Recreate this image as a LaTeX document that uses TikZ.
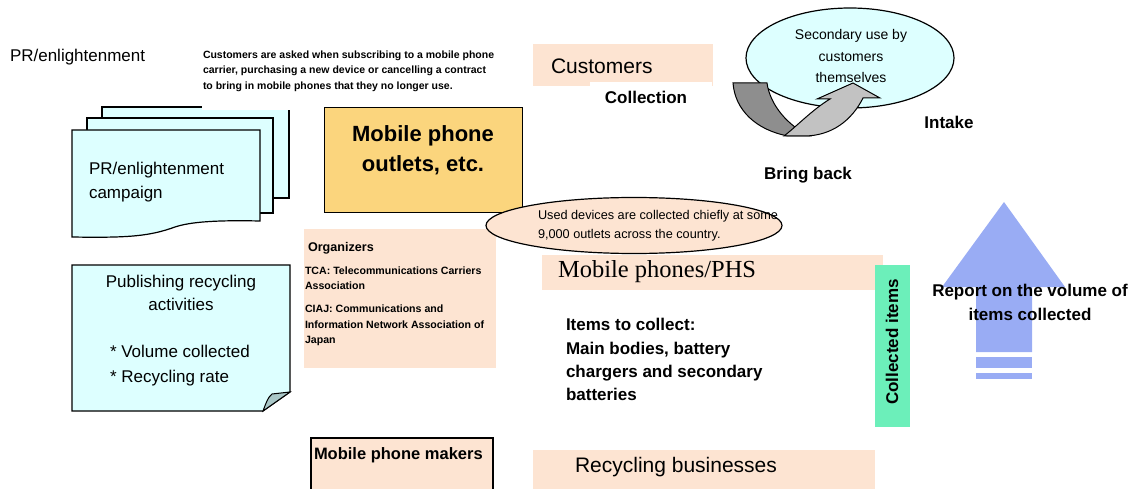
\documentclass[tikz,border=0pt]{standalone}
\usepackage{fontspec}
\setmainfont{Liberation Sans}
\newfontfamily\timesf{Liberation Serif}
\definecolor{cyanfill}{HTML}{DDFFFF}
\definecolor{peach}{HTML}{FDE4D2}
\definecolor{outletyel}{HTML}{FBD57D}
\definecolor{greenbox}{HTML}{6CEFBA}
\definecolor{bluearrow}{HTML}{99ACF4}
\definecolor{darkarr}{HTML}{8E8E8E}
\definecolor{lightarr}{HTML}{C2C2C2}
\definecolor{foldcol}{HTML}{A9C7C7}
\newcommand{\fs}[2]{\fontsize{#1}{#2}\selectfont}
\begin{document}
\begin{tikzpicture}[x=1pt,y=-1pt,
  outline/.style={draw=black,line width=1.2pt},
  txt/.style={inner sep=0pt,outer sep=0pt,text=black},
  ltxt/.style={txt,anchor=north west,align=left},
  ctxt/.style={txt,align=center}]
\useasboundingbox (0,0) rectangle (1135,489);
% left heading
\node[txt,anchor=west,font=\fs{17}{20}] (prhead) at (10,57) {PR/enlightenment};
% multi-document
\path[fill=cyanfill,outline] (102,107) rectangle (289,198);
\path[fill=cyanfill,outline] (87,118) rectangle (273,213);
\path[fill=cyanfill,outline] (72,130) -- (260,130) -- (260,221)
  .. controls (215,220) and (190,222) .. (175,227)
  .. controls (150,236) and (130,238) .. (72,237) -- cycle;
\node[ltxt,font=\fs{17}{24}] (prcamp) at (89,162) {PR/enlightenment\\campaign};
% white cover for text box
\fill[white] (202,42) rectangle (315,110);
\node[ltxt,font=\fs{10.5}{15.5}\bfseries] (asktxt) at (203,50.5) {Customers are asked when subscribing to a mobile phone\\carrier, purchasing a new device or cancelling a contract\\to bring in mobile phones that they no longer use.};
% outlets
\node[fill=outletyel,outline,minimum width=198pt,minimum height=105pt,anchor=north west] (outlets) at (324,107) {};
\node[ctxt,font=\fs{22}{30}\bfseries] (outtxt) at (423,150) {Mobile phone\\outlets, etc.};
% customers
\node[fill=peach,inner sep=0,minimum width=180pt,minimum height=42pt,anchor=north west] (cust) at (533,44) {};
\node[txt,anchor=west,font=\fs{21}{24}] (custtxt) at (551,66) {Customers};
\node[fill=white,inner sep=0,minimum width=122pt,minimum height=28pt,anchor=north west] (collbox) at (590,82) {};
\node[txt,font=\fs{17}{20}\bfseries] (colltxt) at (646,97) {Collection};
% secondary use ellipse
\path[fill=cyanfill,outline] (850,58) ellipse [x radius=104, y radius=50];
\node[ctxt,font=\fs{14}{21.5}] (sectxt) at (851,56) {Secondary use by\\customers\\themselves};
% curved arrows
\path[fill=darkarr,draw=black,line width=1pt] (733,83) -- (767,83)
  .. controls (770,105) and (788,126) .. (810,136) -- (788,136)
  .. controls (756,130) and (735,110) .. (733,83) -- cycle;
\path[fill=lightarr,draw=black,line width=1pt] (784,136)
  .. controls (797,126) and (812,110) .. (830,99) -- (817,99) -- (853,83) -- (880,98) -- (863,98)
  .. controls (852,120) and (832,136) .. (804,136) -- cycle;
\node[txt,font=\fs{17}{20}\bfseries] (intake) at (949,122) {Intake};
\node[txt,font=\fs{17}{20}\bfseries] (bring) at (808,175) {Bring back};
% organizers
\node[fill=peach,inner sep=0,minimum width=192pt,minimum height=139pt,anchor=north west] (org) at (304,229) {};
\node[txt,anchor=west,font=\fs{12.6}{15}\bfseries] (orgtitle) at (308,248) {Organizers};
\node[ltxt,font=\fs{10.6}{15.3}\bfseries] (orgtxt) at (305,267) {TCA: Telecommunications Carriers\\Association\\[7.7pt]CIAJ: Communications and\\Information Network Association of\\Japan};
% used devices ellipse
\path[fill=peach,outline] (634,225.5) ellipse [x radius=148, y radius=28];
\node[ltxt,font=\fs{12.7}{19}] (usedtxt) at (538,210.5) {Used devices are collected chiefly at some\\9,000 outlets across the country.};
% mobile phones/PHS
\node[fill=peach,inner sep=0,minimum width=341pt,minimum height=35pt,anchor=north west] (phs) at (542,255) {};
\node[txt,anchor=west,font=\fs{24.5}{28}\timesf] (phstxt) at (558,272) {Mobile phones/PHS};
% collected items
\node[fill=greenbox,inner sep=0,minimum width=35pt,minimum height=162pt,anchor=north west] (green) at (875,265) {};
\node[txt,rotate=90,font=\fs{17}{20}\bfseries] (greentxt) at (892,342) {Collected items};
% blue arrow
\fill[bluearrow] (1004,202) -- (1065,287) -- (1032,287) -- (1032,352) -- (976,352) -- (976,287) -- (942,287) -- cycle;
\fill[bluearrow] (976,357) rectangle (1032,368);
\fill[bluearrow] (976,373) rectangle (1032,379);
\node[ctxt,font=\fs{17}{24}\bfseries] (report) at (1030,302) {Report on the volume of\\items collected};
% publishing
\path[fill=cyanfill,outline] (72,265) -- (290,265) -- (290,392) -- (263,411) -- (72,411) -- cycle;
\path[fill=foldcol,draw=black,line width=1pt] (263,411) .. controls (266,403) and (268,397) .. (272,394) -- (290,392) -- cycle;
\node[ctxt,font=\fs{17}{23}] (pubtxt) at (181,292.5) {Publishing recycling\\activities};
\node[ltxt,font=\fs{17}{25}] (pubitems) at (110,345) {* Volume collected\\* Recycling rate};
% items to collect
\node[ltxt,font=\fs{17}{23.3}\bfseries] (items) at (566,318.5) {Items to collect:\\Main bodies, battery\\chargers and secondary\\batteries};
% makers
\path[fill=peach,outline] (311,489) -- (311,438) -- (493,438) -- (493,489);
\node[txt,anchor=west,font=\fs{16.5}{20}\bfseries] (makers) at (314,455) {Mobile phone makers};
% recycling
\node[fill=peach,inner sep=0,minimum width=342pt,minimum height=40pt,anchor=north west] (recyc) at (533,450) {};
\node[txt,anchor=west,font=\fs{21}{24}] (recyctxt) at (575,467) {Recycling businesses};
\end{tikzpicture}
\end{document}
